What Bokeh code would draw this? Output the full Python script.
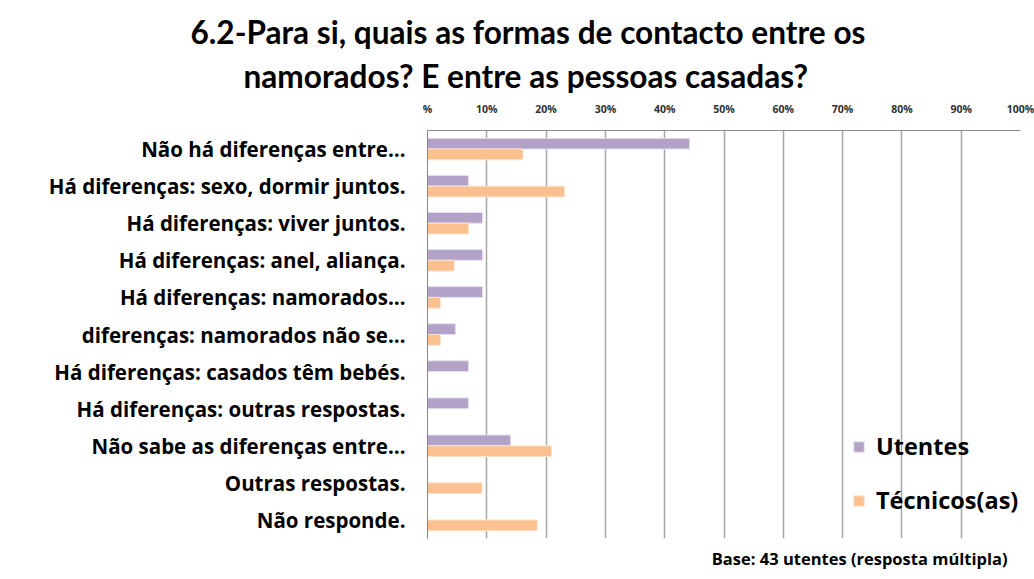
from bokeh.plotting import figure
from bokeh.models import FactorRange, FixedTicker, Legend, LegendItem, Title, ColumnDataSource
from bokeh.transform import dodge
from bokeh.embed import file_html
from bokeh.resources import INLINE

categories = [
    "Não há diferenças entre…",
    "Há diferenças: sexo, dormir juntos.",
    "Há diferenças: viver juntos.",
    "Há diferenças: anel, aliança.",
    "Há diferenças: namorados…",
    "diferenças: namorados não se…",
    "Há diferenças: casados têm bebés.",
    "Há diferenças: outras respostas.",
    "Não sabe as diferenças entre…",
    "Outras respostas.",
    "Não responde.",
]
utentes = [44.2, 6.9, 9.3, 9.3, 9.3, 4.7, 6.9, 6.9, 14.0, 0.0, 0.0]
tecnicos = [16.1, 23.1, 6.9, 4.5, 2.2, 2.2, 0.0, 0.0, 20.9, 9.2, 18.5]
tick_values = [0, 10, 20, 30, 40, 50, 60, 70, 80, 90, 100]
tick_labels = ["%", "10%", "20%", "30%", "40%", "50%", "60%", "70%", "80%", "90%", "100%"]
series_names = ["Utentes", "Técnicos(as)"]
title_lines = ["6.2-Para si, quais as formas de contacto entre os",
               "namorados? E entre as pessoas casadas?"]
footer = "Base: 43 utentes (resposta múltipla)"

FONT = "Open Sans"
TFONT = "Lato"
source = ColumnDataSource(dict(cat=categories, ut=utentes, tec=tecnicos))

p = figure(width=1034, height=579, output_backend="svg", toolbar_location=None,
           y_range=FactorRange(factors=list(reversed(categories))),
           x_range=(0, 100), x_axis_location="above",
           min_border_left=427, min_border_right=14, min_border_top=130, min_border_bottom=41)
p.outline_line_color = None
p.background_fill_color = "white"
p.border_fill_color = "white"

bh = 0.29
r1 = p.hbar(y=dodge("cat", bh / 2, range=p.y_range), right="ut", left=0, height=bh,
            source=source, fill_color="#B3A2C7", line_color="#E6DFEE", line_width=1)
r2 = p.hbar(y=dodge("cat", -bh / 2, range=p.y_range), right="tec", left=0, height=bh,
            source=source, fill_color="#FAC090", line_color="#FCE4CF", line_width=1)

xa = p.xaxis[0]
xa.ticker = FixedTicker(ticks=tick_values)
xa.major_label_overrides = {v: t for v, t in zip(tick_values, tick_labels)}
xa.major_tick_line_color = None
xa.minor_tick_line_color = None
xa.axis_line_color = "#8C8C8C"
xa.major_label_text_font = FONT
xa.major_label_text_font_style = "bold"
xa.major_label_text_font_size = "10.5px"
xa.major_label_text_color = "#303030"
xa.major_label_standoff = 9

ya = p.yaxis[0]
ya.major_tick_line_color = None
ya.minor_tick_line_color = None
ya.axis_line_color = "#868686"
ya.major_label_text_font = FONT
ya.major_label_text_font_style = "bold"
ya.major_label_text_font_size = "20.5px"
ya.major_label_text_color = "black"
ya.major_label_standoff = 16

p.xgrid.grid_line_color = "#A6A6A6"
p.xgrid.grid_line_width = 1.5
p.xgrid.ticker = FixedTicker(ticks=tick_values)
p.ygrid.grid_line_color = None

legend = Legend(items=[LegendItem(label=series_names[0], renderers=[r1]),
                       LegendItem(label=series_names[1], renderers=[r2])],
                location=(425, 22), orientation="vertical",
                background_fill_alpha=0, border_line_color=None,
                padding=0, margin=0, spacing=22,
                glyph_width=13, glyph_height=13, label_standoff=11,
                label_text_font=FONT, label_text_font_style="bold",
                label_text_font_size="23.5px", label_text_color="black")
p.add_layout(legend)

# title lines (second line closest to the axis)
p.add_layout(Title(text=title_lines[1], align="left", offset=-184, standoff=8,
                   text_font=TFONT, text_font_style="bold", text_font_size="31.6px",
                   text_color="black"), "above")
p.add_layout(Title(text=title_lines[0], align="left", offset=-237, standoff=0,
                   text_font=TFONT, text_font_style="bold", text_font_size="31.6px",
                   text_color="black"), "above")

p.add_layout(Title(text=footer, align="right", offset=13, standoff=13,
                   text_font=FONT, text_font_style="bold", text_font_size="16.5px",
                   text_color="black"), "below")

open("out.html", "w").write(file_html(p, INLINE))
